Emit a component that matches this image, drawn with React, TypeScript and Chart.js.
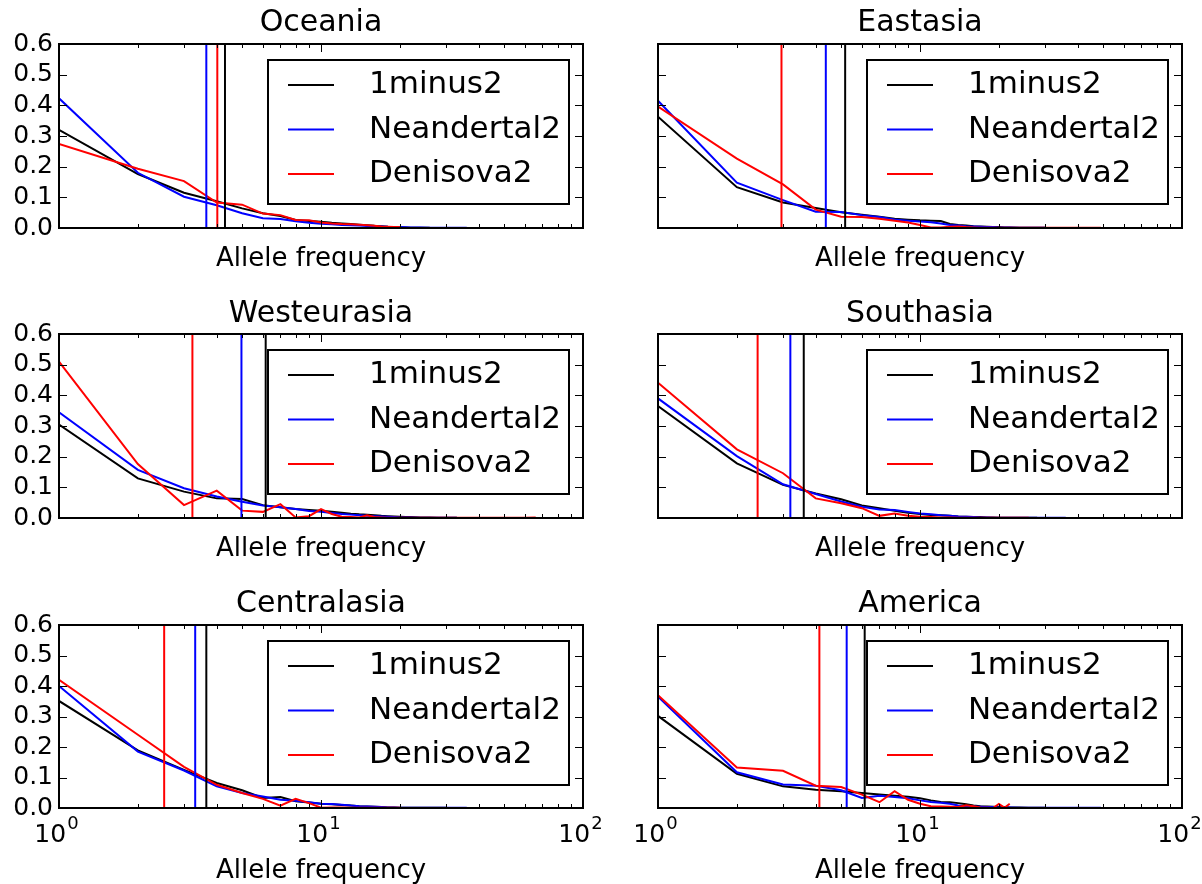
import React, { useEffect, useRef } from 'react';
import { Chart, registerables } from 'chart.js';

Chart.register(...registerables);

const FONT = "'DejaVu Sans', 'Liberation Sans', sans-serif";

// Allele frequency values shared by every series (series arrays may be shorter)
const FREQ = [1, 2, 3, 4, 5, 6, 7, 8, 9, 10, 11, 12, 13, 14, 15, 16, 17, 18, 19, 20, 21, 22, 24, 26, 28, 30, 33, 36, 40, 45, 49, 55, 60, 66];

const SERIES_LABELS = ['1minus2', 'Neandertal2', 'Denisova2'];
const SERIES_COLORS = ['#000000', '#0000ff', '#ff0000'];

const X_TICKS = [1, 10, 100];
const X_TICK_BASE = ['10', '10', '10'];
const X_TICK_EXP = ['0', '1', '2'];
const X_MINOR_TICKS = [2, 3, 4, 5, 6, 7, 8, 9, 20, 30, 40, 50, 60, 70, 80, 90];
const Y_TICKS = [0.1, 0.2, 0.3, 0.4, 0.5];
const X_LABEL = 'Allele frequency';

// ---- Oceania
const oceania1minus2 = [0.32, 0.176, 0.115, 0.087, 0.064, 0.048, 0.039, 0.026, 0.023, 0.02, 0.017, 0.015, 0.013, 0.011, 0.009, 0.007, 0.006, 0.004, 0.003, 0.002, 0.002, 0.001, 0.001, 0.0005];
const oceaniaNeandertal2 = [0.423, 0.18, 0.102, 0.074, 0.048, 0.032, 0.029, 0.022, 0.017, 0.014, 0.012, 0.01, 0.009, 0.008, 0.0065, 0.006, 0.005, 0.004, 0.0035, 0.003, 0.0025, 0.002, 0.0015, 0.0012, 0.001, 0.001, 0.0008, 0.0005];
const oceaniaDenisova2 = [0.274, 0.193, 0.153, 0.083, 0.076, 0.047, 0.042, 0.026, 0.025, 0.018, 0.015, 0.013, 0.012, 0.011, 0.009, 0.007, 0.005, 0.004, 0.003, 0.003];
const oceaniaMeans = [4.3, 3.65, 4.02];

// ---- Eastasia
const eastasia1minus2 = [0.363, 0.133, 0.083, 0.065, 0.051, 0.043, 0.037, 0.03, 0.027, 0.025, 0.024, 0.023, 0.013, 0.01, 0.008, 0.006, 0.005, 0.004, 0.003, 0.003, 0.002, 0.002, 0.001, 0.001, 0.001, 0.0005];
const eastasiaNeandertal2 = [0.415, 0.148, 0.091, 0.053, 0.052, 0.042, 0.036, 0.028, 0.024, 0.021, 0.019, 0.015, 0.01, 0.008, 0.006, 0.005, 0.004, 0.003, 0.003, 0.002, 0.002, 0.0015, 0.001, 0.001, 0.001, 0.0005];
const eastasiaDenisova2 = [0.396, 0.226, 0.142, 0.06, 0.037, 0.036, 0.03, 0.024, 0.018, 0.01, 0.002, 0.002, 0.004, 0.005, 0.003, 0.002, 0.001, 0.001, 0.001, 0.001, 0.001, 0.001, 0.0005, 0.0005, 0.0005, 0.0005, 0.0005, 0.0005, 0.0005, 0.0005, 0.0005];
const eastasiaMeans = [5.18, 4.37, 2.96];

// ---- Westeurasia
const westeurasia1minus2 = [0.305, 0.129, 0.086, 0.064, 0.062, 0.042, 0.035, 0.029, 0.026, 0.024, 0.02, 0.017, 0.014, 0.012, 0.011, 0.009, 0.007, 0.006, 0.005, 0.004, 0.003, 0.003, 0.002, 0.0015, 0.001, 0.001, 0.0005];
const westeurasiaNeandertal2 = [0.345, 0.157, 0.097, 0.07, 0.053, 0.041, 0.035, 0.029, 0.023, 0.02, 0.016, 0.013, 0.011, 0.009, 0.007, 0.006, 0.005, 0.004, 0.003, 0.002, 0.002, 0.0015, 0.001, 0.001, 0.001, 0.0005, 0.0005];
const westeurasiaDenisova2 = [0.51, 0.176, 0.042, 0.089, 0.024, 0.02, 0.045, 0.002, 0.006, 0.029, 0.013, 0.004, 0.003, 0.002, 0.009, 0.003, 0.002, 0.001, 0.001, 0.001, 0.0005, 0.0005, 0.0005, 0.0005, 0.0005, 0.0005, 0.0005, 0.0005, 0.0005, 0.0005, 0.0005, 0.0005, 0.0005, 0.002];
const westeurasiaMeans = [6.15, 4.97, 3.23];

// ---- Southasia
const southasia1minus2 = [0.365, 0.178, 0.108, 0.08, 0.061, 0.041, 0.032, 0.024, 0.017, 0.013, 0.01, 0.009, 0.007, 0.005, 0.004, 0.003, 0.003, 0.002, 0.002, 0.001, 0.001, 0.001, 0.0005, 0.0005, 0.0005];
const southasiaNeandertal2 = [0.39, 0.202, 0.11, 0.078, 0.054, 0.037, 0.028, 0.026, 0.02, 0.015, 0.012, 0.009, 0.007, 0.005, 0.004, 0.003, 0.002, 0.002, 0.001, 0.001, 0.001, 0.001, 0.0005, 0.0005, 0.0005, 0.0005, 0.0005, 0.0005];
const southasiaDenisova2 = [0.441, 0.224, 0.146, 0.064, 0.048, 0.032, 0.007, 0.015, 0.007, 0.004, 0.003, 0.002, 0.002, 0.001, 0.001, 0.001, 0.001, 0.001, 0.0005, 0.0005, 0.0005, 0.0005, 0.0005, 0.0005];
const southasiaMeans = [3.6, 3.2, 2.4];

// ---- Centralasia
const centralasia1minus2 = [0.351, 0.189, 0.125, 0.082, 0.058, 0.033, 0.036, 0.022, 0.018, 0.014, 0.012, 0.01, 0.008, 0.006, 0.005, 0.004, 0.003, 0.002, 0.002, 0.001, 0.001, 0.001, 0.0005, 0.0005, 0.0005, 0.0005];
const centralasiaNeandertal2 = [0.4, 0.185, 0.123, 0.071, 0.049, 0.038, 0.027, 0.024, 0.019, 0.014, 0.013, 0.011, 0.008, 0.006, 0.005, 0.004, 0.003, 0.002, 0.002, 0.001, 0.001, 0.001, 0.0005, 0.0005, 0.0005, 0.0005, 0.0005, 0.0005];
const centralasiaDenisova2 = [0.42, 0.24, 0.135, 0.076, 0.049, 0.03, 0.008, 0.03, 0.016, 0.001, 0.002, 0.002, 0.001, 0.001, 0.001, 0.001, 0.0005, 0.0005, 0.0005, 0.0005];
const centralasiaMeans = [3.65, 3.31, 2.52];

// ---- America
const america1minus2 = [0.302, 0.112, 0.071, 0.06, 0.055, 0.049, 0.044, 0.04, 0.037, 0.032, 0.025, 0.02, 0.019, 0.016, 0.012, 0.008, 0.006, 0.005, 0.004, 0.003, 0.003, 0.002, 0.002, 0.001, 0.001, 0.0005];
const americaNeandertal2 = [0.365, 0.117, 0.077, 0.073, 0.058, 0.033, 0.04, 0.036, 0.032, 0.025, 0.02, 0.017, 0.014, 0.008, 0.006, 0.005, 0.004, 0.003, 0.003, 0.002, 0.002, 0.002, 0.001, 0.001, 0.001, 0.0005, 0.0005, 0.0005, 0.0005, 0.0005, 0.0005];
const americaDenisova2 = [0.37, 0.133, 0.122, 0.073, 0.069, 0.044, 0.019, 0.055, 0.027, 0.014, 0.006, 0.005, 0.004, 0.003, 0.009, 0.006, 0.002, 0.001, 0.0, 0.013, 0.001, 0.014];
const americaMeans = [6.15, 5.25, 4.13];

const PANELS = [
  { name: 'Oceania', series: [oceania1minus2, oceaniaNeandertal2, oceaniaDenisova2], means: oceaniaMeans },
  { name: 'Eastasia', series: [eastasia1minus2, eastasiaNeandertal2, eastasiaDenisova2], means: eastasiaMeans },
  { name: 'Westeurasia', series: [westeurasia1minus2, westeurasiaNeandertal2, westeurasiaDenisova2], means: westeurasiaMeans },
  { name: 'Southasia', series: [southasia1minus2, southasiaNeandertal2, southasiaDenisova2], means: southasiaMeans },
  { name: 'Centralasia', series: [centralasia1minus2, centralasiaNeandertal2, centralasiaDenisova2], means: centralasiaMeans },
  { name: 'America', series: [america1minus2, americaNeandertal2, americaDenisova2], means: americaMeans },
];

// layout geometry (canvas placement and plot-area box inside each canvas)
const COLS = [{ left: 0, width: 620 }, { left: 599, width: 603 }];
const ROWS = [
  { top: 0, height: 290, plotTop: 44, plotBottom: 228, titlePad: 5, xTitlePad: 18 },
  { top: 290, height: 290, plotTop: 44, plotBottom: 228, titlePad: 6, xTitlePad: 18 },
  { top: 580, height: 304, plotTop: 45, plotBottom: 228, titlePad: 6, xTitlePad: 0 },
];
const PLOT_LEFT = 59;
const PLOT_RIGHT = 583;

const framePlugin = {
  id: 'mplFrame',
  afterDatasetsDraw(chart: any) {
    const { ctx, chartArea: a, scales } = chart;
    const xs = scales.x;
    const ys = scales.y;
    ctx.save();
    ctx.strokeStyle = '#000';
    ctx.lineWidth = 1;
    ctx.beginPath();
    const tickX = (v: number, len: number) => {
      const px = Math.round(xs.getPixelForValue(v)) + 0.5;
      ctx.moveTo(px, a.bottom);
      ctx.lineTo(px, a.bottom - len);
      ctx.moveTo(px, a.top);
      ctx.lineTo(px, a.top + len);
    };
    X_TICKS.forEach((v) => tickX(v, 8));
    X_MINOR_TICKS.forEach((v) => tickX(v, 4));
    Y_TICKS.forEach((v) => {
      const py = Math.round(ys.getPixelForValue(v)) + 0.5;
      ctx.moveTo(a.left, py);
      ctx.lineTo(a.left + 8, py);
      ctx.moveTo(a.right, py);
      ctx.lineTo(a.right - 8, py);
    });
    ctx.stroke();
    ctx.lineWidth = 2;
    ctx.strokeRect(a.left, a.top, a.right - a.left, a.bottom - a.top);
    ctx.restore();
  },
  afterDraw(chart: any) {
    const { ctx, chartArea: a, scales } = chart;
    ctx.save();
    // x tick labels as 10 with a raised exponent (bottom row only)
    if (chart.options.showXLabels) {
      const xs = scales.x;
      X_TICKS.forEach((v, k) => {
        const px = xs.getPixelForValue(v);
        ctx.font = `25px ${FONT}`;
        const wb = ctx.measureText(X_TICK_BASE[k]).width;
        ctx.font = `18px ${FONT}`;
        const we = ctx.measureText(X_TICK_EXP[k]).width;
        const x0 = px - (wb + we) / 2 - 3;
        const base = a.bottom + 34;
        ctx.fillStyle = '#000';
        ctx.textAlign = 'left';
        ctx.textBaseline = 'alphabetic';
        ctx.font = `25px ${FONT}`;
        ctx.fillText(X_TICK_BASE[k], x0, base);
        ctx.font = `18px ${FONT}`;
        ctx.fillText(X_TICK_EXP[k], x0 + wb + 1, base - 13);
      });
    }
    // legend inside the axes, upper right
    const items = chart.data.datasets.filter((d: any) => d.inLegend);
    const bw = 301;
    const bh = 144;
    const bx = a.right - 14 - bw;
    const by = a.top + 16;
    ctx.fillStyle = '#ffffff';
    ctx.fillRect(bx, by, bw, bh);
    ctx.strokeStyle = '#000';
    ctx.lineWidth = 2;
    ctx.strokeRect(bx, by, bw, bh);
    items.forEach((d: any, i: number) => {
      const cy = by + 25 + i * 44.5;
      ctx.strokeStyle = d.borderColor;
      ctx.lineWidth = 2;
      ctx.beginPath();
      ctx.moveTo(bx + 20, cy);
      ctx.lineTo(bx + 66, cy);
      ctx.stroke();
      ctx.fillStyle = '#000';
      ctx.font = `31px ${FONT}`;
      ctx.textAlign = 'left';
      ctx.textBaseline = 'middle';
      ctx.fillText(d.label, bx + 101, cy);
    });
    ctx.restore();
  },
};

function Panel({ index }: { index: number }) {
  const ref = useRef<HTMLCanvasElement | null>(null);
  const panel = PANELS[index];
  const col = COLS[index % 2];
  const row = ROWS[Math.floor(index / 2)];
  const showY = index % 2 === 0;
  const showX = Math.floor(index / 2) === 2;

  useEffect(() => {
    if (!ref.current) return;
    const W = col.width;
    const H = row.height;
    const datasets: any[] = [];
    panel.series.forEach((vals, si) => {
      datasets.push({
        label: SERIES_LABELS[si],
        inLegend: true,
        data: vals.map((y, i) => ({ x: FREQ[i], y })),
        borderColor: SERIES_COLORS[si],
        backgroundColor: SERIES_COLORS[si],
        borderWidth: 2,
        pointRadius: 0,
        fill: false,
        tension: 0,
        order: 10 - si,
      });
    });
    panel.means.forEach((m, si) => {
      datasets.push({
        label: SERIES_LABELS[si] + ' mean',
        inLegend: false,
        data: [{ x: m, y: 0 }, { x: m, y: 0.6 }],
        borderColor: SERIES_COLORS[si],
        backgroundColor: SERIES_COLORS[si],
        borderWidth: 2,
        pointRadius: 0,
        fill: false,
        order: 5 - si,
      });
    });

    const chart = new Chart(ref.current, {
      type: 'line',
      data: { datasets },
      options: {
        responsive: false,
        animation: false,
        devicePixelRatio: 1,
        showXLabels: showX,
        layout: { autoPadding: false, padding: { left: 0, top: 0, right: W - PLOT_RIGHT, bottom: 0 } },
        plugins: {
          legend: { display: false },
          tooltip: { enabled: false },
          title: {
            display: true,
            fullSize: false,
            text: panel.name,
            color: '#000',
            font: { family: FONT, size: 30, weight: 'normal', lineHeight: 1.2 },
            padding: { top: row.titlePad, bottom: row.plotTop - row.titlePad - 36 },
          },
        },
        scales: {
          x: {
            type: 'logarithmic',
            min: 1,
            max: 100,
            grid: { display: false, drawTicks: false },
            border: { display: false },
            afterBuildTicks: (s: any) => {
              s.ticks = X_TICKS.map((v) => ({ value: v }));
            },
            afterFit: (s: any) => {
              s.height = H - row.plotBottom;
              s.paddingLeft = 0;
              s.paddingRight = 0;
            },
            ticks: { display: false, autoSkip: false, maxRotation: 0, minRotation: 0 },
            title: {
              display: true,
              text: X_LABEL,
              color: '#000',
              font: { family: FONT, size: 26, lineHeight: 1 },
              padding: { top: 0, bottom: row.xTitlePad },
            },
          },
          y: {
            type: 'linear',
            min: 0,
            max: 0.6,
            grid: { display: false, drawTicks: false },
            border: { display: false },
            afterFit: (s: any) => {
              s.width = PLOT_LEFT;
              s.paddingTop = 0;
              s.paddingBottom = 0;
            },
            ticks: {
              display: showY,
              autoSkip: false,
              stepSize: 0.1,
              padding: 6,
              color: '#000',
              font: { family: FONT, size: 25 },
              callback: (v: any) => Number(v).toFixed(1),
            },
          },
        },
      } as any,
      plugins: [framePlugin],
    });
    return () => chart.destroy();
  }, []);

  return (
    <canvas
      ref={ref}
      width={col.width}
      height={row.height}
      style={{ position: 'absolute', left: col.left, top: row.top, width: col.width, height: row.height, display: 'block' }}
    />
  );
}

export default function App() {
  return (
    <div style={{ position: 'absolute', left: 0, top: 0, width: 1202, height: 884, overflow: 'hidden', background: '#ffffff' }}>
      {PANELS.map((p, i) => (
        <Panel key={p.name} index={i} />
      ))}
    </div>
  );
}
